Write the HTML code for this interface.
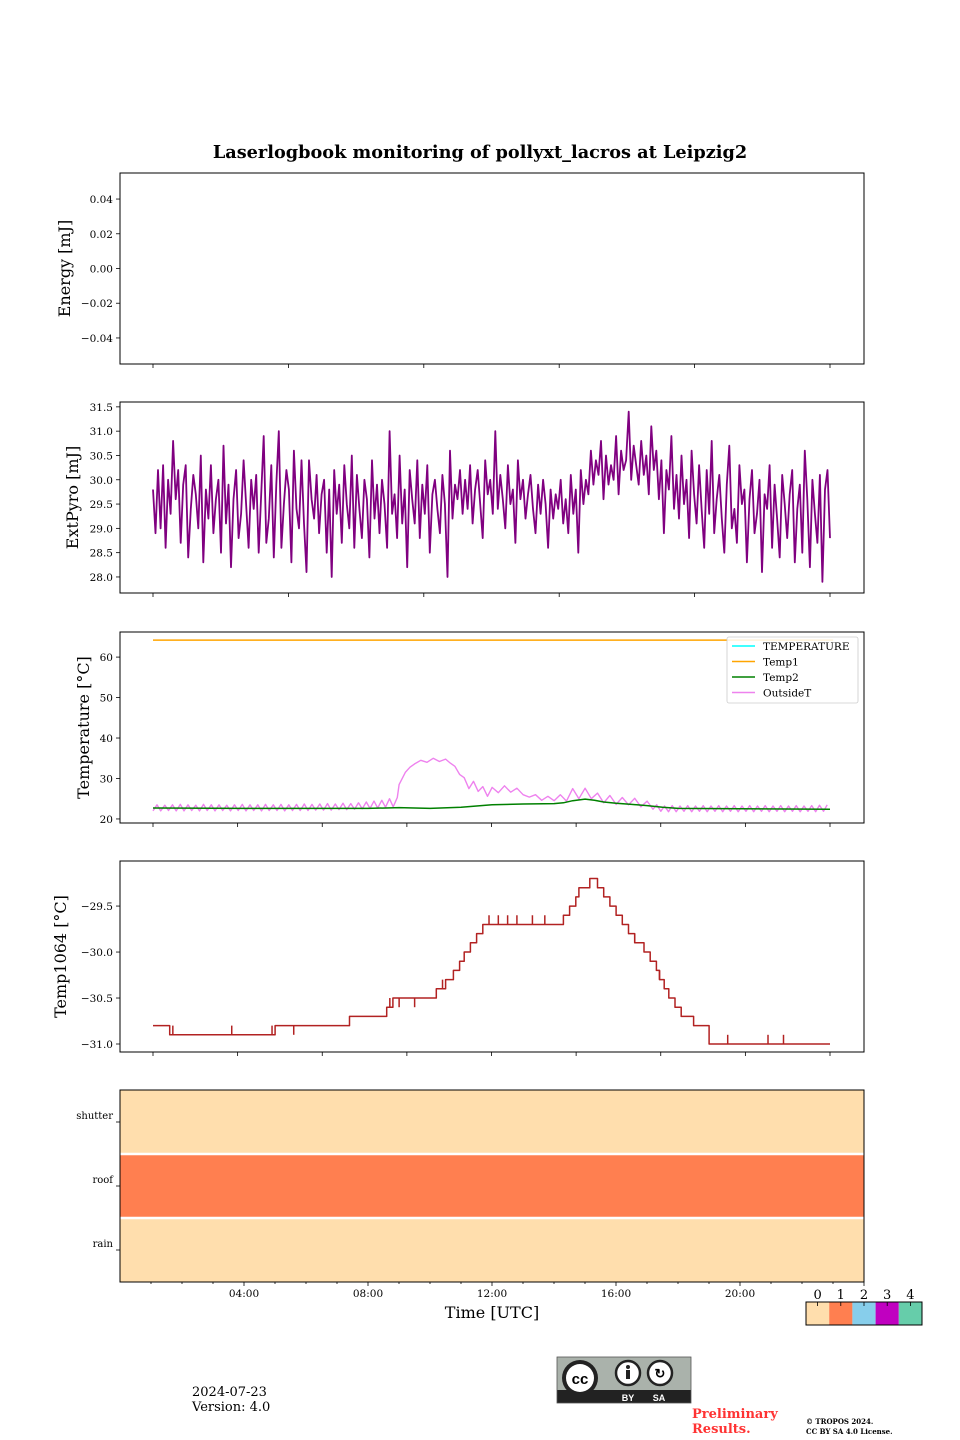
<!DOCTYPE html>
<html><head><meta charset="utf-8">
<style>
html,body{margin:0;padding:0;background:#fff;}
svg{display:block;font-family:"DejaVu Serif","Liberation Serif",serif;}
</style></head>
<body>
<svg id="fig" width="960" height="1440" viewBox="0 0 960 1440" xmlns="http://www.w3.org/2000/svg">
<text x="480" y="158" text-anchor="middle" font-size="17.7" font-weight="bold">Laserlogbook monitoring of pollyxt_lacros at Leipzig2</text>
<g id="plots"></g>
<text x="492" y="1318" text-anchor="middle" font-size="16">Time [UTC]</text>
<g id="cbar"></g>
<text x="192" y="1396" font-size="13">2024-07-23</text>
<text x="192" y="1411" font-size="13">Version: 4.0</text>
<g>
<rect x="557" y="1357" width="134" height="46" fill="#aab2ab"/>
<rect x="557" y="1390" width="134" height="13" fill="#222"/>
<rect x="557" y="1357" width="134" height="46" fill="none" stroke="#555" stroke-width="0.8"/>
<circle cx="580" cy="1378" r="18" fill="#222"/>
<circle cx="580" cy="1378" r="14" fill="#fff"/>
<text x="580" y="1384" text-anchor="middle" font-size="15" font-weight="bold" font-family="Liberation Sans,sans-serif">cc</text>
<circle cx="628" cy="1373" r="12" fill="#fff" stroke="#222" stroke-width="2.5"/>
<circle cx="628" cy="1367" r="2" fill="#222"/><rect x="626" y="1370" width="4" height="9" fill="#222"/>
<circle cx="660" cy="1373" r="12" fill="#fff" stroke="#222" stroke-width="2.5"/>
<text x="660" y="1378" text-anchor="middle" font-size="13" font-weight="bold" font-family="Liberation Sans,sans-serif">↻</text>
<text x="628" y="1401" text-anchor="middle" font-size="9" fill="#fff" font-weight="bold" font-family="Liberation Sans,sans-serif">BY</text>
<text x="659" y="1401" text-anchor="middle" font-size="9" fill="#fff" font-weight="bold" font-family="Liberation Sans,sans-serif">SA</text>
</g>
<text x="692" y="1418" font-size="13" font-weight="bold" fill="#ff3333"><tspan x="692">Preliminary</tspan><tspan x="692" dy="15">Results.</tspan></text>
<text x="806" y="1424" font-size="7" font-weight="bold"><tspan x="806">© TROPOS 2024.</tspan><tspan x="806" dy="10">CC BY SA 4.0 License.</tspan></text>
</svg>
<script>
// ---------- data ----------
const pyroStart = 1.06, pyroEnd = 22.9;
const pyroValues = [
29.8,28.9,30.2,29.0,30.3,28.6,30.0,29.3,30.8,29.6,30.2,28.7,29.9,30.3,28.4,29.4,30.1,29.7,29.0,30.5,
28.3,29.8,29.2,30.3,28.9,29.6,30.0,28.5,30.7,29.1,29.9,28.2,29.6,30.2,28.8,29.3,30.4,29.5,28.6,30.0,
29.4,30.1,28.5,29.7,30.9,28.7,29.2,30.3,28.4,29.9,31.0,28.6,29.5,30.2,29.8,28.3,30.6,29.4,29.0,30.4,
29.1,28.1,30.4,29.6,29.2,30.1,28.9,29.7,30.0,28.5,29.8,28.0,30.2,29.3,29.9,28.7,30.3,29.5,29.0,30.5,
28.6,30.1,29.4,28.8,30.0,29.6,28.4,30.4,29.2,29.9,28.9,30.0,29.5,28.6,31.0,29.3,29.7,28.8,30.5,29.1,
29.8,28.2,30.2,29.6,29.1,30.4,28.8,29.9,29.3,30.3,28.5,29.7,30.0,29.4,28.9,30.1,29.5,28.0,30.6,29.2,
29.9,29.6,30.2,29.3,30.0,29.4,30.3,29.1,29.8,30.2,29.5,28.8,30.4,29.7,30.0,29.3,31.0,29.4,30.1,29.6,
29.0,30.3,29.5,29.8,28.7,30.4,29.6,30.0,29.2,29.7,30.1,29.4,28.9,29.9,29.3,30.0,29.5,28.6,29.8,29.2,
29.7,29.4,30.0,29.1,29.6,28.9,30.1,29.3,29.8,28.5,30.2,29.5,30.0,29.7,30.6,29.9,30.4,30.1,30.8,29.6,
30.5,29.9,30.3,30.0,30.9,29.7,30.6,30.2,30.4,31.4,30.0,30.7,30.3,29.9,30.8,30.1,30.5,29.7,31.1,30.2,
30.6,29.6,30.4,28.9,30.2,29.8,30.9,29.4,30.1,29.2,30.5,29.5,30.0,28.8,30.6,29.7,29.1,30.3,29.4,28.6,
30.2,29.3,30.8,28.9,29.6,30.1,29.2,28.5,29.9,30.7,29.0,29.4,28.7,30.3,29.5,29.8,28.3,29.6,30.2,28.9,
29.3,30.0,28.1,29.7,29.4,30.3,28.6,29.9,29.2,28.4,30.1,29.5,28.8,29.7,30.2,28.3,29.4,29.9,28.5,30.6,
29.6,28.2,30.0,29.3,28.7,30.1,27.9,29.8,30.2,28.8
];
const tempTimes = [1.06,23.0];
const temp1Values = [64.2,64.2];
const otTimes = [
1.06,1.19,1.31,1.44,1.56,1.69,1.81,1.94,2.06,2.19,2.31,2.44,2.56,2.69,2.81,2.94,3.06,3.19,3.31,3.44,3.56,3.69,3.81,3.94,4.06,4.19,
4.31,4.44,4.56,4.69,4.81,4.94,5.06,5.19,5.31,5.44,5.56,5.69,5.81,5.94,6.06,6.19,6.31,6.44,6.56,6.69,6.81,6.94,7.06,7.19,7.31,7.44,
7.56,7.69,7.81,7.94,8.06,8.19,8.31,8.44,8.56,8.69,8.81,8.94,
9.0,9.2,9.35,9.5,9.7,9.9,10.1,10.3,10.5,10.65,10.8,10.95,11.1,11.25,11.4,11.55,11.7,11.85,12.0,
12.2,12.4,12.6,12.8,13.0,13.2,13.4,13.6,13.8,14.0,14.2,14.4,14.6,14.8,15.0,15.2,15.4,15.6,15.8,16.0,16.2,16.4,16.6,16.8,17.0,
17.19,17.31,17.44,17.56,17.69,17.81,17.94,18.06,18.19,18.31,18.44,18.56,18.69,18.81,18.94,19.06,19.19,19.31,19.44,19.56,19.69,19.81,19.94,
20.06,20.19,20.31,20.44,20.56,20.69,20.81,20.94,21.06,21.19,21.31,21.44,21.56,21.69,21.81,21.94,22.06,22.19,22.31,22.44,22.56,22.69,22.81,22.9];
const otValues = [
22.0,23.5,22.0,23.4,22.1,23.5,22.0,23.6,22.0,23.5,22.1,23.4,22.0,23.6,22.1,23.5,22.0,23.5,22.1,23.4,22.0,23.5,22.1,23.6,22.0,23.5,
22.1,23.5,22.0,23.6,22.1,23.5,22.1,23.6,22.0,23.5,22.1,23.6,22.1,23.7,22.1,23.6,22.2,23.7,22.2,23.8,22.2,23.7,22.3,23.9,22.3,23.8,
22.4,24.0,22.5,24.2,22.6,24.4,22.7,24.6,22.9,25.0,23.0,25.3,
28.5,31.5,32.8,33.6,34.5,34.0,35.0,34.2,34.8,33.8,33.0,31.0,30.2,27.5,29.3,26.8,28.0,25.6,27.8,
26.5,28.2,26.6,27.6,26.0,25.4,26.0,24.6,25.6,24.5,26.0,24.4,27.5,25.0,27.6,25.0,26.4,24.0,25.8,23.6,25.3,23.5,25.1,23.0,24.4,
22.4,23.5,21.9,23.2,21.8,23.3,21.8,23.2,21.9,23.3,21.8,23.2,21.9,23.3,21.8,23.2,21.9,23.3,21.8,23.2,21.9,23.3,21.8,
23.2,21.9,23.3,21.8,23.2,21.9,23.3,21.8,23.2,21.9,23.3,21.8,23.2,21.9,23.3,21.8,23.2,21.9,23.3,21.8,23.4,21.9,23.5];
const t2Times = [1.06,4.0,8.0,9.0,10.0,11.0,11.5,12.0,13.0,14.0,14.3,14.6,15.0,15.3,15.6,16.0,16.5,17.0,17.5,18.0,20.0,22.9];
const t2Values = [22.7,22.6,22.6,22.8,22.6,22.9,23.2,23.5,23.7,23.8,24.0,24.5,24.9,24.6,24.2,23.9,23.6,23.3,22.9,22.6,22.5,22.4];
const t1064Times = [1.06,1.6,5.0,7.4,8.6,8.8,10.2,10.5,10.75,10.95,11.1,11.3,11.5,11.7,12.0,14.3,14.5,14.7,14.8,15.15,15.4,15.6,15.8,16.0,16.2,16.4,16.6,16.9,17.1,17.3,17.4,17.55,17.7,17.9,18.1,18.5,19.0,22.9];
const t1064Values = [-30.8,-30.9,-30.8,-30.7,-30.6,-30.5,-30.4,-30.3,-30.2,-30.1,-30.0,-29.9,-29.8,-29.7,-29.7,-29.6,-29.5,-29.4,-29.3,-29.2,-29.3,-29.4,-29.5,-29.6,-29.7,-29.8,-29.9,-30.0,-30.1,-30.2,-30.3,-30.4,-30.5,-30.6,-30.7,-30.8,-31.0,-31.0];
const spikeTimes = [1.7,3.6,4.9,5.6,7.1,7.2,8.7,9.0,9.5,9.8,10.4,10.9,11.9,12.2,12.5,12.8,13.3,13.7,16.6,17.4,19.6,20.9,21.4];
const spikeValues = [-30.8,-30.8,-30.8,-30.9,-30.8,-30.8,-30.5,-30.6,-30.6,-30.5,-30.3,-30.2,-29.6,-29.6,-29.6,-29.6,-29.6,-29.6,-29.8,-30.2,-30.9,-30.9,-30.9];
const statusRows = ["shutter","roof","rain"];
const statusValues = [0,1,0];
const statusColors = ["#ffdead","#ff7f50","#87ceeb","#c000c0","#66cdaa"];
const energyTicks = [0.04,0.02,0.00,-0.02,-0.04];
const pyroTicks = [31.5,31.0,30.5,30.0,29.5,29.0,28.5,28.0];
const tempTicks = [60,50,40,30,20];
const t1064Ticks = [-29.5,-30.0,-30.5,-31.0];
const timeTickLabels = ["04:00","08:00","12:00","16:00","20:00"];
const timeTickHours = [4,8,12,16,20];

// ---------- layout ----------
const NS="http://www.w3.org/2000/svg";
const L=120,R=864;
const plots=document.getElementById('plots');
function el(tag,attrs,parent){const e=document.createElementNS(NS,tag);for(const k in attrs)e.setAttribute(k,attrs[k]);(parent||plots).appendChild(e);return e;}
const xData=h=>153+(h-1.06)*(830-153)/(22.9-1.06);
const xTime=h=>L+h*31;
function yScale(top,bot,vmin,vmax){return v=>bot-(v-vmin)/(vmax-vmin)*(bot-top);}
function panel(name,top,bot,ys,ticks,fmt,label,labelX){
  const g=el('g',{});
  
  
  ticks.forEach(t=>{const y=ys(t);
    el('line',{x1:L-4,x2:L,y1:y,y2:y,stroke:'#000','stroke-width':0.8},g);
    const tx=el('text',{x:L-7,y:y+4,'text-anchor':'end','font-size':10.5},g);
    tx.textContent=fmt(t);
  });
  const lb=el('text',{x:labelX,y:(top+bot)/2,'text-anchor':'middle','font-size':16,transform:`rotate(-90 ${labelX} ${(top+bot)/2})`},g);
  
  
  lb.textContent=label;
  return g;
}
function frame(g,top,bot){el('rect',{x:L,y:top,width:R-L,height:bot-top,fill:'none',stroke:'#000','stroke-width':1},g);}
function bottomTicks(g,bot,n){for(let i=0;i<n;i++){const x=153+i*(830-153)/(n-1);el('line',{x1:x,x2:x,y1:bot,y2:bot+4,stroke:'#000','stroke-width':0.8},g);}}
function path(g,xs,ys,xf,yf,color,w,name){
  let d='';xs.forEach((t,i)=>{d+=(i?'L':'M')+xf(t).toFixed(1)+','+yf(ys[i]).toFixed(1);});
  const p=el('path',{d:d,fill:'none',stroke:color,'stroke-width':w,'stroke-linejoin':'round'},g);
  
  
  return p;
}
const f2=t=>t.toFixed(2).replace('-','−'), f1=t=>t.toFixed(1).replace('-','−'), f0=t=>String(t);

// panel 1 energy
{const ys=yScale(173,364,-0.055,0.055);
 const g=panel('energy-panel',173,364,ys,energyTicks,f2,'Energy [mJ]',70);frame(g,173,364);bottomTicks(g,364,6);}
// panel 2 pyro
{const top=402,bot=593;const ys=yScale(top,bot,27.67,31.6);
 const g=panel('extpyro-panel',top,bot,ys,pyroTicks,f1,'ExtPyro [mJ]',78);
 const ts=pyroValues.map((v,i)=>pyroStart+i*(pyroEnd-pyroStart)/(pyroValues.length-1));
 path(g,ts,pyroValues,xData,ys,'#800080',1.8,'extpyro-line');
 frame(g,top,bot);bottomTicks(g,bot,6);}
// panel 3 temperatures
{const top=632,bot=823;const ys=yScale(top,bot,19.0,66.2);
 const g=panel('temperature-panel',top,bot,ys,tempTicks,f0,'Temperature [°C]',89);
 path(g,tempTimes,temp1Values,xData,ys,'#ffa500',1.5,'temp1-line');
 path(g,otTimes,otValues,xData,ys,'#ee82ee',1.4,'outsidet-line');
 path(g,t2Times,t2Values,xData,ys,'#008000',1.5,'temp2-line');
 frame(g,top,bot);bottomTicks(g,bot,9);
 const lg=el('g',{},g);
 el('rect',{x:727,y:637,width:131,height:66,fill:'#fff','fill-opacity':0.85,stroke:'#ccc','stroke-width':0.8,rx:2},lg);
 [['TEMPERATURE','#00ffff'],['Temp1','#ffa500'],['Temp2','#008000'],['OutsideT','#ee82ee']].forEach((e,i)=>{
   const y=646+i*15.5;
   const it=el('g',{},lg);
   el('line',{x1:732,x2:755,y1:y,y2:y,stroke:e[1],'stroke-width':1.5},it);
   const t=el('text',{x:763,y:y+4,'font-size':10.5},it);t.textContent=e[0];
 });}
// panel 4 temp1064
{const top=861,bot=1052;const ys=yScale(top,bot,-31.087,-29.01);
 const g=panel('temp1064-panel',top,bot,ys,t1064Ticks,f1,'Temp1064 [°C]',66);
 const sx=[],sy=[];
 t1064Times.forEach((t,i)=>{if(i){sx.push(t);sy.push(t1064Values[i-1]);}sx.push(t);sy.push(t1064Values[i]);});
 path(g,sx,sy,xData,ys,'#b22222',1.5,'temp1064-line');
 spikeTimes.forEach((t,i)=>{
   let base=t1064Values[0];t1064Times.forEach((tt,j)=>{if(tt<=t)base=t1064Values[j];});
   const s=el('line',{x1:xData(t),x2:xData(t),y1:ys(base),y2:ys(spikeValues[i]),stroke:'#b22222','stroke-width':1.5},g);
   
   
 });
 frame(g,top,bot);bottomTicks(g,bot,9);}
// panel 5 status
{const top=1090,bot=1282;const rowH=(bot-top)/statusRows.length;
 const g=el('g',{});
 statusRows.forEach((r,i)=>{
   const y=top+i*rowH;
   const c=el('rect',{x:L,y:y,width:R-L,height:rowH,fill:statusColors[statusValues[i]]},g);
   
   
   el('line',{x1:L-4,x2:L,y1:y+rowH/2,y2:y+rowH/2,stroke:'#000','stroke-width':0.8},g);
   const t=el('text',{x:L-7,y:y+rowH/2-3,'text-anchor':'end','font-size':10},g);t.textContent=r;
 });
 for(let i=1;i<statusRows.length;i++)el('line',{x1:L,x2:R,y1:top+i*rowH,y2:top+i*rowH,stroke:'#fff','stroke-width':2.5},g);
 frame(g,top,bot);
 for(let h=1;h<=24;h++){const x=xTime(h);if(x>R)break;el('line',{x1:x,x2:x,y1:bot,y2:bot+(h%4?2:4),stroke:'#000','stroke-width':0.8},g);}
 timeTickHours.forEach((h,i)=>{const t=el('text',{x:xTime(h),y:bot+15,'text-anchor':'middle','font-size':10.5},g);t.textContent=timeTickLabels[i];});}
// colorbar
{const cb=document.getElementById('cbar');const x0=806,w=116/5;
 statusColors.forEach((c,i)=>{
   el('rect',{x:x0+i*w,y:1302,width:w,height:23,fill:c},cb);
   el('line',{x1:x0+(i+0.5)*w,x2:x0+(i+0.5)*w,y1:1302,y2:1306,stroke:'#000','stroke-width':0.8},cb);
   const t=el('text',{x:x0+(i+0.5)*w,y:1299,'text-anchor':'middle','font-size':13},cb);t.textContent=String(i);
 });
 el('rect',{x:x0,y:1302,width:116,height:23,fill:'none',stroke:'#000','stroke-width':1},cb);}
</script>
</body></html>
